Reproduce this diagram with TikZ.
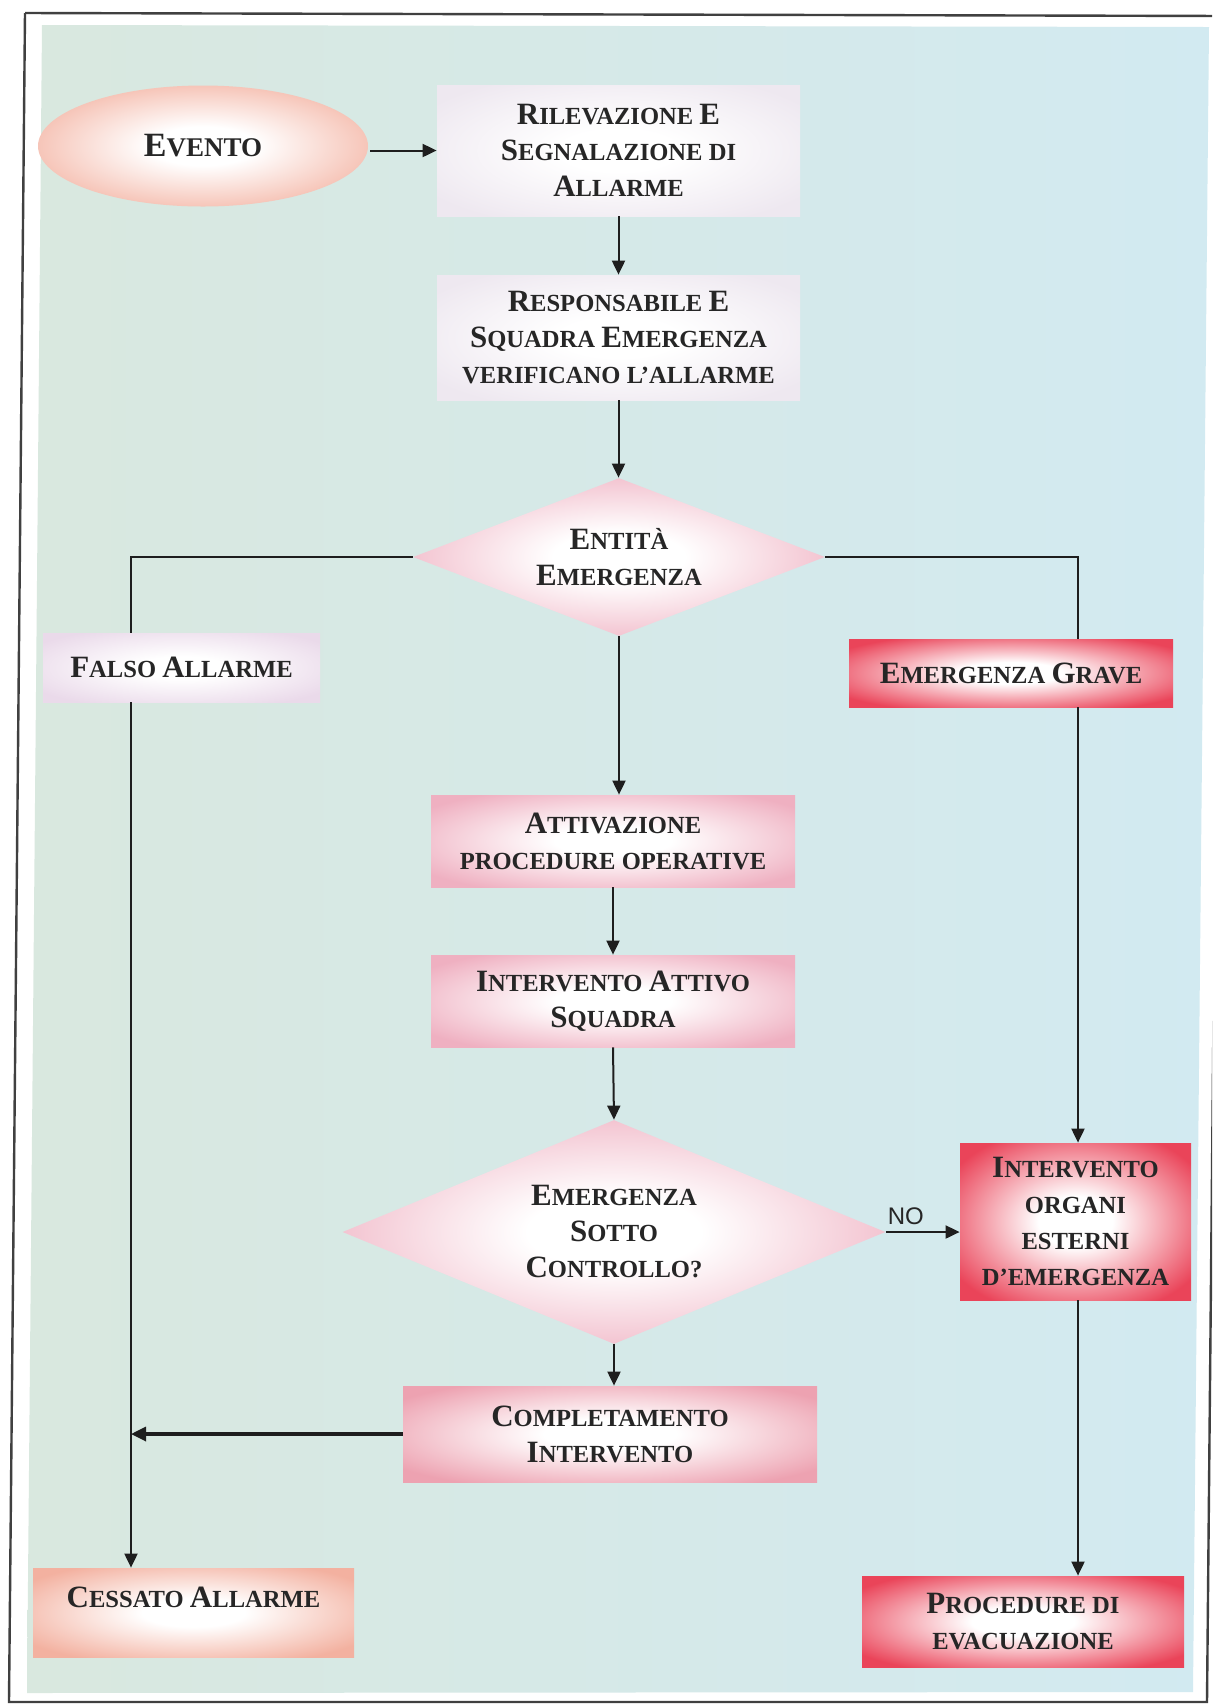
\documentclass[tikz,border=0pt]{standalone}
\usepackage{fontspec}
\setmainfont{Liberation Serif}
\newfontfamily\nofont{Liberation Sans}
\usetikzlibrary{shapes.geometric,arrows.meta,calc}

\definecolor{txt}{HTML}{262626}
\definecolor{linec}{HTML}{1E1E1E}
\definecolor{bgl}{HTML}{D9E8DF}
\definecolor{bgr}{HTML}{D2EAF1}
\definecolor{rimSalmon}{HTML}{F3B1A0}
\definecolor{rimPale}{HTML}{EEE8F0}
\definecolor{rimLav}{HTML}{EADAEA}
\definecolor{rimPink}{HTML}{EFB0C1}
\definecolor{rimRose}{HTML}{EDA2B1}
\definecolor{rimRed}{HTML}{EA4459}
\colorlet{rimc}{white}

\pgfdeclareradialshading[rimc]{glow}{\pgfpointorigin}{color(0bp)=(white); color(8bp)=(white); color(31bp)=(rimc); color(50bp)=(rimc)}

\newcommand\B[1]{{\fontsize{15.5pt}{18pt}\selectfont #1}}

\tikzset{
  rim/.code={\colorlet{rimc}{#1}},
  base/.style={shade, shading=glow, inner sep=0pt, align=center, text=txt,
    font=\fontsize{12.3pt}{18pt}\selectfont\bfseries},
  box/.style={base, rectangle},
  ell/.style={base, ellipse},
  dia/.style={base, diamond},
  conn/.style={line width=1pt, draw=linec},
  arr/.style={conn, -{Triangle[length=7pt,width=6.5pt]}},
  thickarr/.style={line width=1.6pt, draw=linec, -{Triangle[length=7.5pt,width=7pt]}},
  frame/.style={line width=1.2pt, draw=linec!85},
}

\begin{document}
\begin{tikzpicture}[x=0.5pt,y=-0.5pt]
\useasboundingbox (0,0) rectangle (1212,1705);
\clip (0,0) rectangle (1212,1705);
\fill[white] (0,0) rectangle (1212,1705);
\shade[left color=bgl, right color=bgr] (42,25) -- (1209,27) -- (1193,1692) -- (27,1693) -- cycle;
\draw[frame] (25,13) -- (1230,16);
\draw[frame] (25,13) -- (9,1702) -- (1207,1702) -- (1223,10);

% helper coordinates for the side lines
\coordinate (lft) at (131,0);
\coordinate (rgt) at (1078,0);

% nodes
\node[ell, rim=rimSalmon, minimum width=165pt, minimum height=60.5pt] (evento) at (203,146)
  {{\fontsize{17pt}{18pt}\selectfont E}{\fontsize{13.5pt}{18pt}\selectfont VENTO}};
\node[box, rim=rimPale, minimum width=181.5pt, minimum height=65.5pt] (ril) at (618.5,150.5)
  {\B{R}ILEVAZIONE \B{E}\\\B{S}EGNALAZIONE DI\\\B{A}LLARME};
\node[box, rim=rimPale, minimum width=181.5pt, minimum height=62.5pt] (resp) at (618.5,337.5)
  {\B{R}ESPONSABILE \B{E}\\\B{S}QUADRA \B{E}MERGENZA\\VERIFICANO L’ALLARME};
\node[dia, rim=rimPink, aspect=2.6, minimum width=206pt, minimum height=79pt] (ent) at (619,557)
  {\B{E}NTITÀ\\\B{E}MERGENZA};
\node[box, rim=rimLav, minimum width=138.5pt, minimum height=34.5pt] (falso) at (181.5,667.5)
  {\B{F}ALSO \B{A}LLARME};
\node[box, rim=rimRed, minimum width=162pt, minimum height=34pt] (grave) at (1011,673)
  {\B{E}MERGENZA \B{G}RAVE};
\node[box, rim=rimPink, minimum width=182pt, minimum height=46pt] (att) at (613,841)
  {\B{A}TTIVAZIONE\\PROCEDURE OPERATIVE};
\node[box, rim=rimPink, minimum width=182pt, minimum height=46pt] (iatt) at (613,1001)
  {\B{I}NTERVENTO \B{A}TTIVO\\\B{S}QUADRA};
\node[dia, rim=rimPink, aspect=2.42, minimum width=271.5pt, minimum height=112pt] (ctrl) at (614,1232)
  {\B{E}MERGENZA\\\B{S}OTTO\\\B{C}ONTROLLO?};
\node[box, rim=rimRed, minimum width=115.5pt, minimum height=78.5pt] (ext) at (1075.5,1221.5)
  {\B{I}NTERVENTO\\ORGANI\\ESTERNI\\D’EMERGENZA};
\node[box, rim=rimRose, minimum width=207pt, minimum height=48pt] (compl) at (610,1434)
  {\B{C}OMPLETAMENTO\\\B{I}NTERVENTO};
\node[box, rim=rimSalmon, minimum width=160.5pt, minimum height=44.5pt, text height=11pt, text depth=16.5pt] (cess) at (193.5,1612.5)
  {\B{C}ESSATO \B{A}LLARME};
\node[box, rim=rimRed, minimum width=161pt, minimum height=45.5pt] (proc) at (1023,1621.5)
  {\B{P}ROCEDURE DI\\EVACUAZIONE};

% connectors
\draw[arr] ([xshift=1pt]evento.east |- ril.west) -- (ril.west);
\draw[arr] (ril.south) -- (ril.south |- resp.north);
\draw[arr] (resp.south) -- (resp.south |- ent.north);
\draw[conn] (ent.west) -| (falso.north -| lft);
\draw[arr] (falso.south -| lft) -- (cess.north -| lft);
\draw[conn] (ent.east) -| (grave.north -| rgt);
\draw[arr] (grave.south -| rgt) -- (ext.north -| rgt);
\draw[arr] (ext.south -| rgt) -- (proc.north -| rgt);
\draw[arr] (ent.south) -- (ent.south |- att.north);
\draw[arr] (att.south) -- (iatt.north);
\draw[arr] (iatt.south) -- (ctrl.north);
\draw[arr] (ctrl.east) -- (ctrl.east -| ext.west)
  node[pos=0.27, above, inner sep=3pt, text=txt, font=\nofont\fontsize{12pt}{14pt}\selectfont] {NO};
\draw[arr] (ctrl.south) -- (ctrl.south |- compl.north);
\draw[thickarr] (compl.west) -- (compl.west -| lft);
\end{tikzpicture}
\end{document}
